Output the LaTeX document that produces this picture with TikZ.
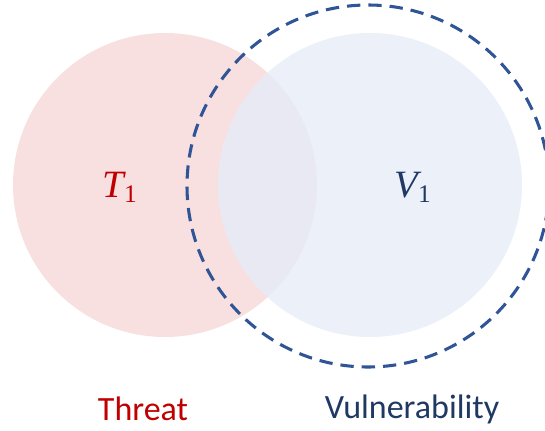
\documentclass[tikz,border=0pt]{standalone}
\usepackage{fontspec}
\newfontfamily\labelfont{Carlito}
\newfontfamily\symbolfont{Liberation Serif}
\definecolor{threatred}{HTML}{C00000}
\definecolor{threatfill}{HTML}{F8E0E0}
\definecolor{vulnblue}{HTML}{1F3864}
\definecolor{vulnfill}{HTML}{E6ECF8}
\definecolor{dashblue}{HTML}{2F5597}
\newcommand{\setsymbol}[2]{$\mbox{\symbolfont\itshape #1}_{\mbox{\symbolfont\fontsize{19}{20}\selectfont #2}}$}
\tikzset{
  setlabel/.style={font=\labelfont\fontsize{25.5}{28}\selectfont},
  mathlabel/.style={font=\fontsize{29}{32}\selectfont}
}
\begin{document}
\begin{tikzpicture}[x=0.75pt,y=-0.75pt]
  \useasboundingbox (0,0) rectangle (545,431);
  \coordinate (threat) at (165,185);
  \coordinate (vuln) at (370,185);
  \fill [threatfill] (threat) circle [radius=152];
  \fill [vulnfill, opacity=0.8] (vuln) circle [radius=152];
  \draw [dashblue, line width=2.3pt, dash pattern=on 10pt off 6pt] (368,186) circle [radius=181];
  \node [mathlabel, text=threatred] (t1) at (120,187) {\setsymbol{T}{1}};
  \node [mathlabel, text=vulnblue] (v1) at (413,187) {\setsymbol{V}{1}};
  \node [setlabel, text=threatred] (threat label) at (143,409) {Threat};
  \node [setlabel, text=vulnblue] (vuln label) at (412,409) {Vulnerability};
\end{tikzpicture}
\end{document}
